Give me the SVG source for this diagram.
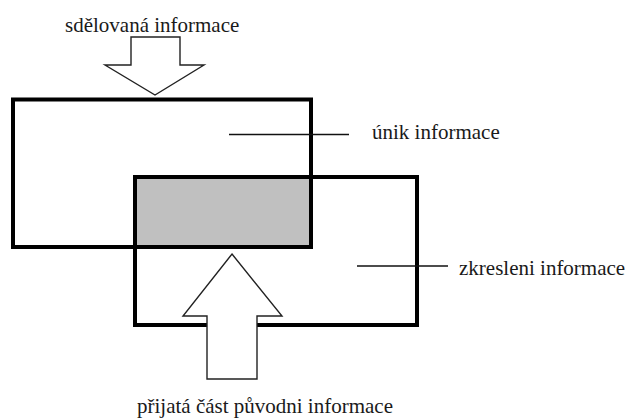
<svg xmlns="http://www.w3.org/2000/svg" width="630" height="419" viewBox="0 0 630 419">
<style>
.box{fill:none;stroke:#000;stroke-width:4}
.arrow{fill:#fff;stroke:#222;stroke-width:1.4}
.lead{stroke:#111;stroke-width:1.4}
</style>
<rect width="630" height="419" fill="#fff"/>
<g id="overlap">
<rect x="135" y="177" width="176" height="70" fill="#c0c0c0"/>
</g>
<g id="box-sent">
<rect class="box" x="13" y="99.5" width="298" height="147.5"/>
</g>
<g id="box-received">
<rect class="box" x="135" y="177" width="282" height="148"/>
</g>
<g id="connectors">
<polygon class="arrow" points="131,37 180,37 180,65 204,65 155,95 105,65 131,65"/>
<polygon class="arrow" points="232,254 282,316 257,316 257,379 207,379 207,316 183,316"/>
<line class="lead" x1="229" y1="134.5" x2="349" y2="134.5"/>
<line class="lead" x1="357" y1="266" x2="448" y2="266"/>
</g>
<g id="labels">
<text x="65" y="32" font-family="Times New Roman, Liberation Serif, serif" font-size="21" fill="#1a1a1a">sdělovaná informace</text>
<text x="372" y="139" font-family="Times New Roman, Liberation Serif, serif" font-size="21" fill="#1a1a1a">únik informace</text>
<text x="459" y="275" font-family="Times New Roman, Liberation Serif, serif" font-size="21" fill="#1a1a1a">zkresleni informace</text>
<text x="137" y="413" font-family="Times New Roman, Liberation Serif, serif" font-size="21" fill="#1a1a1a">přijatá část původni informace</text>
</g>
</svg>
